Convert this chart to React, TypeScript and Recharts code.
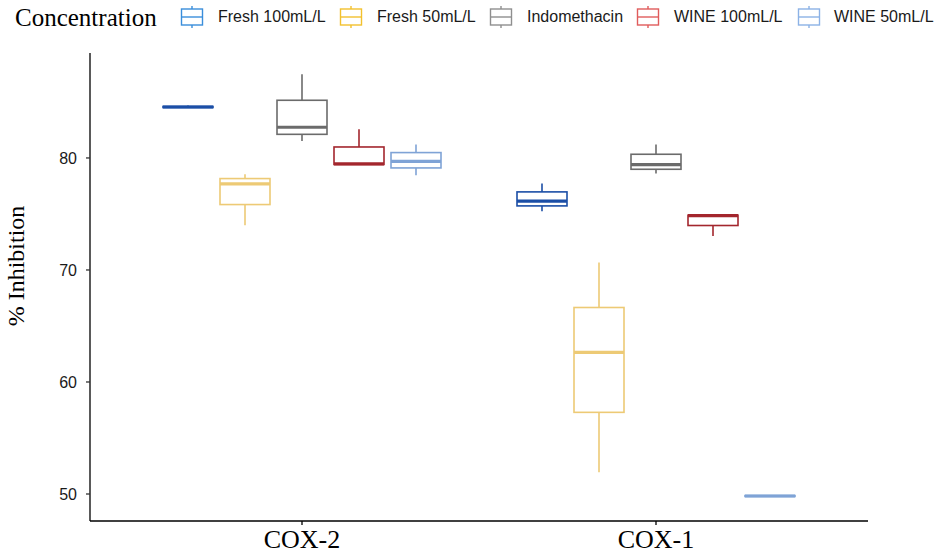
import { ComposedChart, Bar, XAxis, YAxis } from "recharts";

const categories = ["COX-2", "COX-1"];
const seriesNames = ["Fresh 100mL/L", "Fresh 50mL/L", "Indomethacin", "WINE 100mL/L", "WINE 50mL/L"];
const legendColors = ["#3A8EDB", "#F2C12E", "#8F8F8F", "#E05C5C", "#8CB2E6"];
const boxColors = ["#1B4EA6", "#EDCA75", "#6B6B6B", "#A3262D", "#7FA3D6"];

// [min, q1, median, q3, max] for COX-2, COX-1
const fresh100 = [[84.45, 84.5, 84.55, 84.6, 84.68], [75.25, 75.72, 76.14, 76.97, 77.72]];
const fresh50 = [[74.0, 75.84, 77.68, 78.16, 78.55], [51.94, 57.29, 62.64, 66.65, 70.67]];
const indomethacin = [[81.52, 82.11, 82.74, 85.15, 87.47], [78.61, 78.99, 79.41, 80.33, 81.2]];
const wine100 = [[79.38, 79.42, 79.47, 80.98, 82.56], [73.04, 73.97, 74.85, 74.89, 74.95]];
const wine50 = [[78.46, 79.11, 79.7, 80.48, 81.2], [49.75, 49.78, 49.82, 49.86, 49.9]];

const yTicks = [50, 60, 70, 80];

const allSeries = [fresh100, fresh50, indomethacin, wine100, wine50];

const data = categories.map((cat, ci) => {
  const row: any = { cat };
  allSeries.forEach((s, si) => {
    row[`s${si}`] = [s[ci][0], s[ci][4]];
    row[`stats${si}`] = s[ci];
  });
  return row;
});

const serif = "'Liberation Serif', 'Times New Roman', serif";
const sans = "'Liberation Sans', Arial, sans-serif";

// custom box shape: the bar spans min..max, the rest is placed inside it linearly
const makeBox = (si: number) => (props: any) => {
  const { x, y, width, height, payload } = props;
  const [mn, q1, med, q3, mx] = payload[`stats${si}`];
  const top = Math.min(y, y + height);
  const h = Math.abs(height);
  const py = (v: number) => (mx === mn ? top : top + ((mx - v) / (mx - mn)) * h);
  const cx = x + width / 2;
  const c = boxColors[si];
  return (
    <g>
      <line x1={cx} x2={cx} y1={py(mx)} y2={py(q3)} stroke={c} strokeWidth={1.6} />
      <line x1={cx} x2={cx} y1={py(q1)} y2={py(mn)} stroke={c} strokeWidth={1.6} />
      <rect x={x} y={py(q3)} width={width} height={Math.max(py(q1) - py(q3), 0)} fill="#fff" stroke={c} strokeWidth={1.6} />
      <line x1={x} x2={x + width} y1={py(med)} y2={py(med)} stroke={c} strokeWidth={3.2} />
    </g>
  );
};

const legendIconX = [181, 340, 490, 637, 798];
const legendTextX = [218, 377, 527, 674, 834];

function BoxIcon({ color }: { color: string }) {
  return (
    <svg width={24} height={24} style={{ display: "block" }}>
      <line x1={12} x2={12} y1={1} y2={4} stroke={color} strokeWidth={1.4} />
      <line x1={12} x2={12} y1={20} y2={23} stroke={color} strokeWidth={1.4} />
      <rect x={1.5} y={4} width={21} height={16} fill="#fff" stroke={color} strokeWidth={1.4} />
      <line x1={1.5} x2={22.5} y1={12} y2={12} stroke={color} strokeWidth={1.4} />
    </svg>
  );
}

export default function App() {
  return (
    <div style={{ position: "absolute", left: 0, top: 0, width: 939, height: 556, background: "#fff" }}>
      <div style={{ position: "absolute", left: 15, top: 4, fontFamily: serif, fontSize: 25, color: "#000", lineHeight: "28px" }}>
        Concentration
      </div>
      {seriesNames.map((name, i) => (
        <div key={name}>
          <div style={{ position: "absolute", left: legendIconX[i] - 1, top: 5 }}>
            <BoxIcon color={legendColors[i]} />
          </div>
          <div style={{ position: "absolute", left: legendTextX[i], top: 7, fontFamily: sans, fontSize: 16, color: "#1a1a1a", lineHeight: "20px", whiteSpace: "nowrap" }}>
            {name}
          </div>
        </div>
      ))}
      <ComposedChart
        width={939}
        height={556}
        data={data}
        margin={{ top: 53, right: 71, bottom: 0, left: 0 }}
        barGap={7}
        style={{ position: "absolute", left: 0, top: 0 }}
      >
        <XAxis
          dataKey="cat"
          height={35}
          padding={{ left: 35, right: 35 }}
          axisLine={{ stroke: "#000", strokeWidth: 1.3 }}
          tickLine={{ stroke: "#000", strokeWidth: 1.3 }}
          tickSize={4}
          tickMargin={5}
          tick={{ fontFamily: serif, fontSize: 26, fill: "#000" }}
        />
        <YAxis
          type="number"
          width={90}
          domain={[47.59, 89.37]}
          allowDataOverflow
          ticks={yTicks}
          axisLine={{ stroke: "#000", strokeWidth: 1.3 }}
          tickLine={{ stroke: "#333", strokeWidth: 1.3 }}
          tickSize={4}
          tickMargin={9}
          tick={{ fontFamily: sans, fontSize: 16, fill: "#1a1a1a" }}
          label={{
            content: () => (
              <text x={24} y={266} transform="rotate(-90 24 266)" textAnchor="middle" fontFamily={serif} fontSize={24} fill="#000">
                % Inhibition
              </text>
            ),
          }}
        />
        {seriesNames.map((name, si) => (
          <Bar key={name} dataKey={`s${si}`} name={name} barSize={50} shape={makeBox(si)} isAnimationActive={false} />
        ))}
      </ComposedChart>
    </div>
  );
}
